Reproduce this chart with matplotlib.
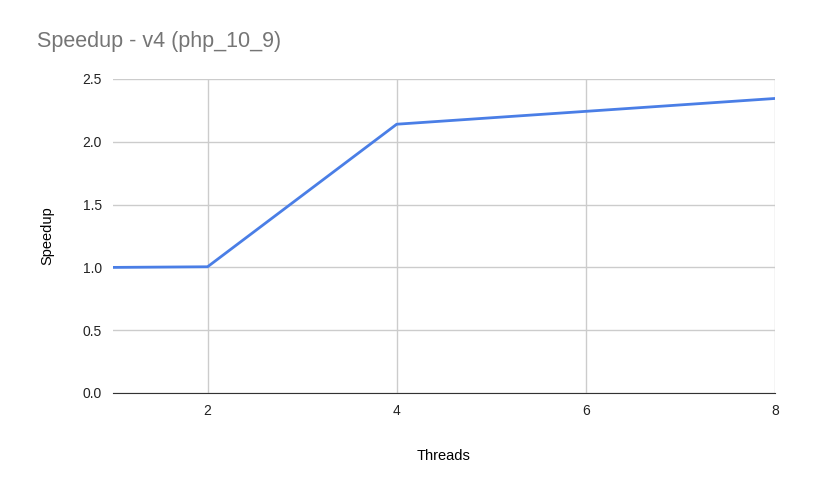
import matplotlib
matplotlib.use("Agg")
import matplotlib.pyplot as plt

threads = [1, 2, 4, 8]
speedup = [1.0, 1.005, 2.14, 2.345]
yticks = [0.0, 0.5, 1.0, 1.5, 2.0, 2.5]
xticks = [2, 4, 6, 8]

plt.rcParams['font.family'] = ['Liberation Sans', 'DejaVu Sans']
fig = plt.figure(figsize=(8.32, 4.92), dpi=100)
ax = fig.add_axes([113/832, 1-393/492, (775-113)/832, (393-79)/492])
ax.plot(threads, speedup, color='#4a7ee6', lw=2.0, solid_capstyle='round')
ax.set_xlim(1, 8)
ax.set_ylim(0, 2.5)
ax.set_yticks(yticks)
ax.set_yticklabels([f"{v:.1f}" for v in yticks])
ax.set_xticks(xticks)
ax.grid(True, color='#cccccc', lw=1)
ax.set_axisbelow(True)
for s in ['top', 'right', 'left']:
    ax.spines[s].set_visible(False)
ax.spines['bottom'].set_color('#333333')
ax.tick_params(length=0, labelsize=10, colors='#222222', pad=8)
ax.set_xlabel('Threads', fontsize=10.5, labelpad=22)
ax.set_ylabel('Speedup', fontsize=10.5, labelpad=20)
fig.text(37/832, 1-42/492, 'Speedup - v4 (php_10_9)', fontsize=15.5, color='#757575', va='center')
fig.savefig('out.png', dpi=100)
